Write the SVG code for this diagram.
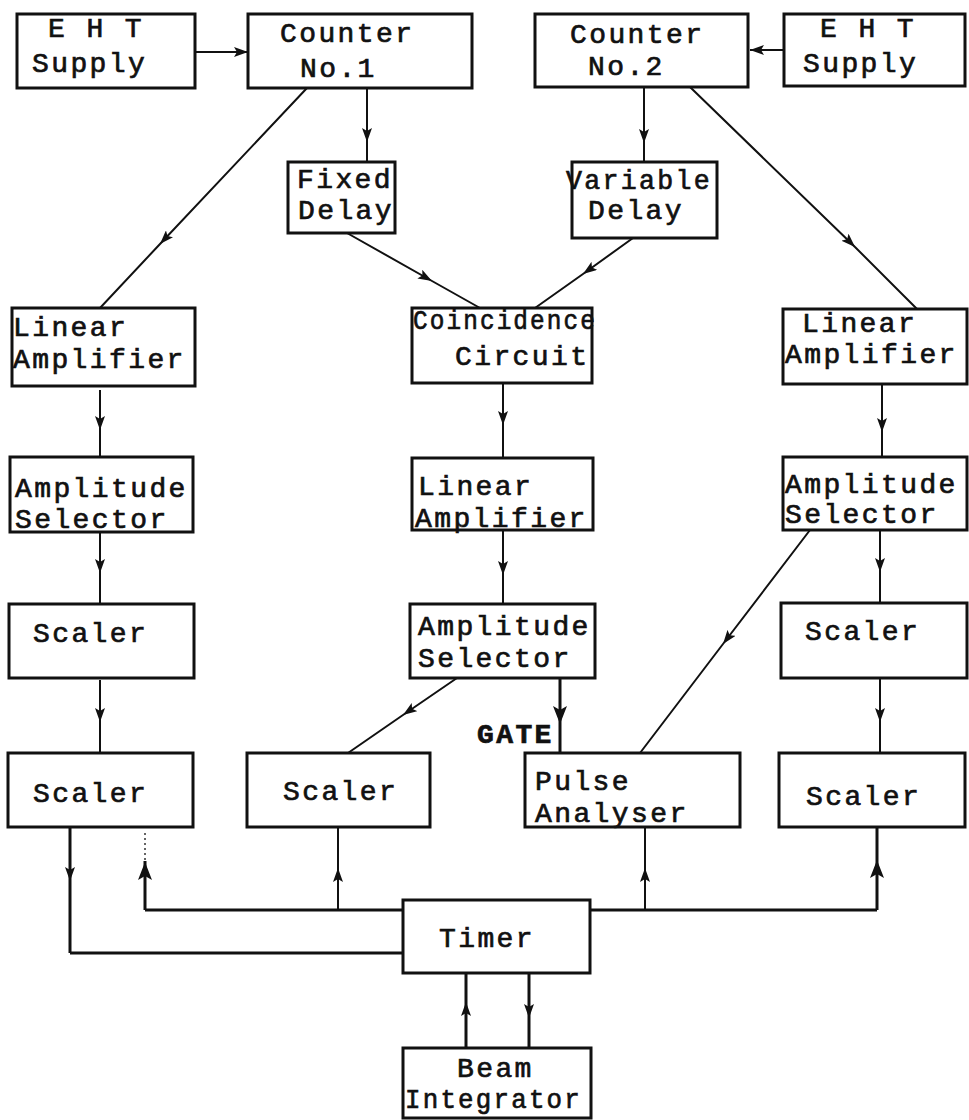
<svg xmlns="http://www.w3.org/2000/svg" width="969" height="1120" viewBox="0 0 969 1120">
<style>
.box{fill:#fff;stroke:#111;stroke-width:3}
text{font-family:"Liberation Mono","Courier New",monospace;font-size:28px;letter-spacing:2.4px;fill:#111;stroke:#111;stroke-width:0.7px}
.c{fill:none;stroke:#111;stroke-width:2}
.t{fill:none;stroke:#111;stroke-width:3}
.d{fill:none;stroke:#333;stroke-width:1.5;stroke-dasharray:2 3}
</style>
<defs>
<marker id="a" viewBox="0 0 14 10" refX="14" refY="5" markerWidth="14" markerHeight="10" markerUnits="userSpaceOnUse" orient="auto"><path d="M0,0 L14,5 L0,10 L3,5 Z" fill="#111"/></marker>
<marker id="b" viewBox="0 0 18 14" refX="18" refY="7" markerWidth="18" markerHeight="14" markerUnits="userSpaceOnUse" orient="auto"><path d="M0,0 L18,7 L0,14 L4,7 Z" fill="#111"/></marker>
</defs>
<g id="connectors">
<path class="c" d="M195,52 L248,52" marker-end="url(#a)"/>
<path class="c" d="M784,50 L750,50" marker-end="url(#a)"/>
<path class="c" d="M367,88 L367,142 L367,162" marker-mid="url(#a)"/>
<path class="c" d="M644,87 L644,143 L644,162" marker-mid="url(#a)"/>
<path class="c" d="M307,88 L160,244 L100,308" marker-mid="url(#a)"/>
<path class="c" d="M690,87 L855,247 L917,309" marker-mid="url(#a)"/>
<path class="c" d="M347,233 L432,281 L480,308" marker-mid="url(#a)"/>
<path class="c" d="M633,238 L583,274 L535,308" marker-mid="url(#a)"/>
<path class="c" d="M100,390 L100,430 L100,457" marker-mid="url(#a)"/>
<path class="c" d="M503,383 L503,425 L503,458" marker-mid="url(#a)"/>
<path class="c" d="M882,384 L882,432 L882,457" marker-mid="url(#a)"/>
<path class="c" d="M503,530 L503,575 L503,604" marker-mid="url(#a)"/>
<path class="c" d="M100,532 L100,573 L100,604" marker-mid="url(#a)"/>
<path class="c" d="M880,530 L880,572 L880,603" marker-mid="url(#a)"/>
<path class="c" d="M810,530 L723,644 L640,753" marker-mid="url(#a)"/>
<path class="c" d="M457,678 L403,715 L348,753" marker-mid="url(#a)"/>
<path class="t" d="M560,678 L560,724 L560,753" marker-mid="url(#b)"/>
<path class="c" d="M100,680 L100,722 L100,753" marker-mid="url(#a)"/>
<path class="c" d="M880,678 L880,722 L880,753" marker-mid="url(#a)"/>
<path class="t" d="M70,827 L70,881 L70,953" marker-mid="url(#a)"/>
<path class="t" d="M70,953 L403,953"/>
<path class="t" d="M403,910 L145,910"/>
<path class="t" d="M145,910 L145,862 L145,861" marker-mid="url(#b)"/>
<path class="d" d="M145,860 L145,832"/>
<path class="c" d="M338,910 L338,868 L338,827" marker-mid="url(#a)"/>
<path class="c" d="M645,910 L645,868 L645,827" marker-mid="url(#a)"/>
<path class="t" d="M590,910 L877,910"/>
<path class="t" d="M877,910 L877,860 L877,827" marker-mid="url(#b)"/>
<path class="t" d="M466,1048 L466,1002 L466,973" marker-mid="url(#a)"/>
<path class="t" d="M529,973 L529,1018 L529,1048" marker-mid="url(#a)"/>
</g>
<g id="eht1"><rect class="box" x="17" y="14" width="178" height="74"/><text x="48" y="37">E H T</text><text x="32" y="72">Supply</text></g>
<g id="counter1"><rect class="box" x="248" y="14" width="224" height="74"/><text x="280" y="42">Counter</text><text x="300" y="77">No.1</text></g>
<g id="counter2"><rect class="box" x="535" y="14" width="213" height="73"/><text x="570" y="43">Counter</text><text x="588" y="75">No.2</text></g>
<g id="eht2"><rect class="box" x="784" y="14" width="181" height="72"/><text x="820" y="37">E H T</text><text x="803" y="72">Supply</text></g>
<g id="fixed"><rect class="box" x="288" y="162" width="107" height="71"/><text x="297" y="188">Fixed</text><text x="298" y="219">Delay</text></g>
<g id="variable"><rect class="box" x="572" y="162" width="145" height="76"/><text x="566" y="189" textLength="146" lengthAdjust="spacingAndGlyphs">Variable</text><text x="588" y="219">Delay</text></g>
<g id="linamp1"><rect class="box" x="12" y="308" width="183" height="78"/><text x="13" y="336">Linear</text><text x="13" y="368">Amplifier</text></g>
<g id="coinc"><rect class="box" x="412" y="308" width="180" height="75"/><text x="413" y="329" textLength="184" lengthAdjust="spacingAndGlyphs">Coincidence</text><text x="455" y="365">Circuit</text></g>
<g id="linamp3"><rect class="box" x="783" y="309" width="184" height="75"/><text x="802" y="332">Linear</text><text x="785" y="363">Amplifier</text></g>
<g id="ampsel1"><rect class="box" x="10" y="457" width="183" height="75"/><text x="15" y="497">Amplitude</text><text x="15" y="528">Selector</text></g>
<g id="linamp2"><rect class="box" x="412" y="458" width="181" height="72"/><text x="418" y="495">Linear</text><text x="415" y="527">Amplifier</text></g>
<g id="ampsel3"><rect class="box" x="783" y="457" width="184" height="73"/><text x="785" y="493">Amplitude</text><text x="785" y="523">Selector</text></g>
<g id="scaler1a"><rect class="box" x="9" y="604" width="185" height="74"/><text x="33" y="642">Scaler</text></g>
<g id="ampsel2"><rect class="box" x="410" y="604" width="185" height="74"/><text x="418" y="635">Amplitude</text><text x="418" y="667">Selector</text></g>
<g id="scaler3a"><rect class="box" x="781" y="603" width="186" height="75"/><text x="805" y="640">Scaler</text></g>
<g id="scaler1b"><rect class="box" x="8" y="753" width="185" height="74"/><text x="33" y="802">Scaler</text></g>
<g id="scaler2"><rect class="box" x="247" y="753" width="183" height="74"/><text x="283" y="800">Scaler</text></g>
<g id="pulse"><rect class="box" x="525" y="753" width="215" height="74"/><text x="535" y="790">Pulse</text><text x="535" y="822">Analyser</text></g>
<g id="scaler3b"><rect class="box" x="779" y="753" width="186" height="74"/><text x="806" y="805">Scaler</text></g>
<g id="timer"><rect class="box" x="403" y="900" width="187" height="73"/><text x="439" y="947">Timer</text></g>
<g id="beam"><rect class="box" x="403" y="1048" width="188" height="70"/><text x="457" y="1077">Beam</text><text x="405" y="1108" textLength="177" lengthAdjust="spacingAndGlyphs">Integrator</text></g>
<g id="gate-label"><text x="477" y="743" font-weight="bold" letter-spacing="1" stroke-width="0.3">GATE</text></g>
</svg>
